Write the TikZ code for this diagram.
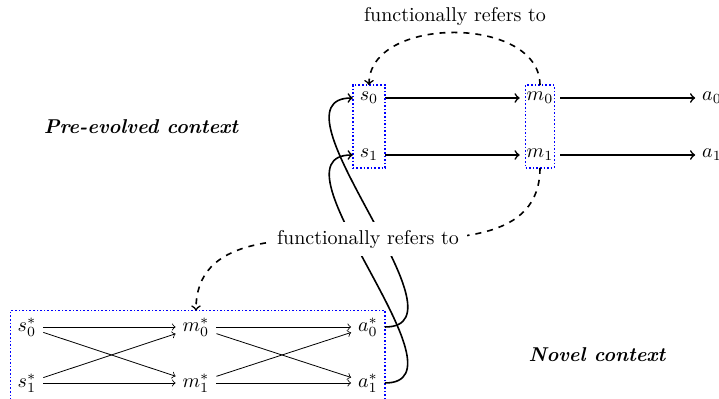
\documentclass[tikz,border=0pt]{standalone}
\usetikzlibrary{fit,calc}
\begin{document}
\begin{tikzpicture}[x=0.5pt,y=-0.5pt,
  arr/.style={->,thick},
  thinarr/.style={->},
  grp/.style={draw=blue,densely dotted,thick,inner sep=0pt},
  refer/.style={->,dashed,thick},
  ctx/.style={font=\bfseries\itshape},
  link/.style={->,thick}]
\useasboundingbox (0,0) rectangle (719,399);
% pre-evolved context
\node (s0) at (369,98) {$s_0$};
\node (s1) at (369,155) {$s_1$};
\node (m0) at (540,98) {$m_0$};
\node (m1) at (540,155) {$m_1$};
\node (a0) at (712,98) {$a_0$};
\node (a1) at (712,155) {$a_1$};
\draw[arr] (s0) -- (m0);
\draw[arr] (s1) -- (m1);
\draw[arr] (m0) -- (a0);
\draw[arr] (m1) -- (a1);
\node[grp, fit=(s0)(s1)] (gs) {};
\node[grp, fit=(m0)(m1), inner xsep=-3pt] (gm) {};
% novel context
\node (s0s) at (27,327) {$s_0^*$};
\node (s1s) at (27,383) {$s_1^*$};
\node (m0s) at (196,327) {$m_0^*$};
\node (m1s) at (196,383) {$m_1^*$};
\node (a0s) at (368,327) {$a_0^*$};
\node (a1s) at (368,383) {$a_1^*$};
\draw[thinarr] (s0s) -- (m0s);
\draw[thinarr] (s0s) -- (m1s);
\draw[thinarr] (s1s) -- (m0s);
\draw[thinarr] (s1s) -- (m1s);
\draw[thinarr] (m0s) -- (a0s);
\draw[thinarr] (m0s) -- (a1s);
\draw[thinarr] (m1s) -- (a0s);
\draw[thinarr] (m1s) -- (a1s);
\node[grp, fit=(s0s)(s1s)(m0s)(m1s)(a0s)(a1s)] (gn) {};
% links between contexts
\draw[link] (a0s) to[out=0,in=180] (s0);
\draw[link] (a1s) to[out=0,in=180] (s1);
% functional reference
\draw[refer] (m0.north) .. controls ($(m0.north)+(0,-70)$) and ($(s0.north)+(0,-70)$) .. (s0.north);
\node (fr1) at (455,17) {functionally refers to};
\draw[refer] (m1.south) .. controls ($(m1.south)+(0,147)$) and ($(m0s.north)+(0,-147)$) .. (m0s.north)
  node[pos=0.5, fill=white, inner sep=4pt, text=black, solid] (fr2) {functionally refers to};
% context labels
\node[ctx] (pre) at (141,127) {Pre-evolved context};
\node[ctx] (nov) at (597,355) {Novel context};
\end{tikzpicture}
\end{document}
